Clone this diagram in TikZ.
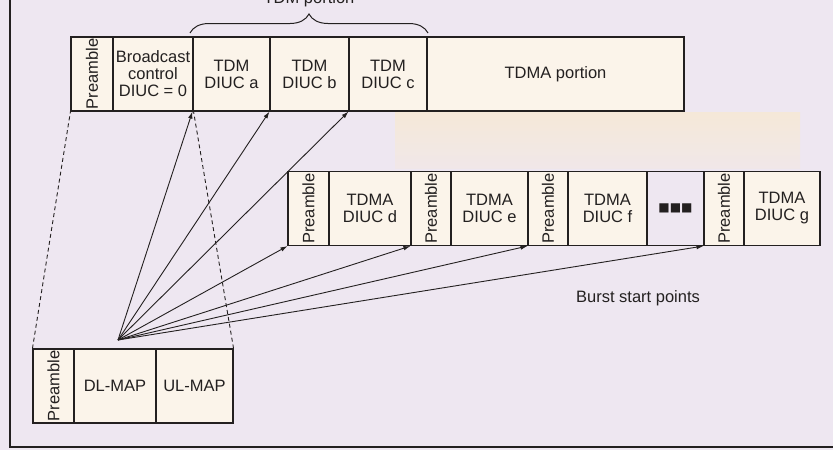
\documentclass[tikz,border=0pt]{standalone}
\usepackage{fontspec}
\setmainfont{Liberation Sans}
\newfontfamily\symfont{DejaVu Sans}
\usetikzlibrary{arrows.meta,decorations.pathreplacing}
\definecolor{bgcol}{RGB}{238,231,241}
\definecolor{cellcol}{RGB}{251,244,234}
\definecolor{bandcol}{RGB}{245,232,216}
\definecolor{linecol}{RGB}{35,32,32}
\begin{document}
\begin{tikzpicture}[x={(1pt,0pt)}, y={(0pt,-1pt)}]
  \tikzstyle{txt}=[font=\fontsize{16.5}{17}\selectfont, text=linecol]
  \tikzstyle{cell}=[txt, draw=linecol, line width=1.1pt, fill=cellcol, minimum height=74pt, inner sep=0pt, align=center]
  \tikzstyle{pre}=[cell, minimum width=41pt, label={[txt, rotate=90]center:Preamble}]
  \tikzstyle{ptr}=[-{Latex[length=7pt, width=4.5pt]}, line width=0.9pt, draw=linecol]
  \tikzstyle{zoom}=[dash pattern=on 4pt off 3pt, line width=0.9pt, draw=linecol]
  \useasboundingbox (0,0) rectangle (833,450);
  \fill[bgcol] (0,0) rectangle (833,450);
  \shade[top color=bandcol, bottom color=bandcol!35!bgcol] (395,112) rectangle (800,168);
  \draw[linecol, line width=1.4pt] (10,0) -- (10,447) -- (833,447);

  \node[pre, minimum width=42pt] (p0) at (92,74) {};
  \node[cell, minimum width=80pt] (bc) at (153,74) {Broadcast\\control\\DIUC = 0};
  \node[cell, minimum width=77pt] (ta) at (231.5,74) {TDM\\DIUC a};
  \node[cell, minimum width=79pt] (tb) at (309.5,74) {TDM\\DIUC b};
  \node[cell, minimum width=78pt] (tc) at (388,74) {TDM\\DIUC c};
  \node[cell, minimum width=257pt] (tp) at (555.5,74) {TDMA portion};

  \coordinate (b1) at (190,33);
  \coordinate (b2) at (428,33);
  \draw[linecol, line width=1pt, decorate, decoration={brace, amplitude=19pt}] (b1) -- (b2);
  \node[txt, anchor=base] (lb) at (309,3) {TDM portion};

  \node[pre] (q1) at (308.5,208.5) {};
  \node[cell, minimum width=82pt] (bd) at (370,208.5) {TDMA\\DIUC d};
  \node[pre, minimum width=40pt] (q2) at (431,208.5) {};
  \node[cell, minimum width=77pt] (be) at (489.5,208.5) {TDMA\\DIUC e};
  \node[pre, minimum width=40pt] (q3) at (548,208.5) {};
  \node[cell, minimum width=79pt] (bf) at (607.5,208.5) {TDMA\\DIUC f};
  \node[cell, fill=bgcol, minimum width=57pt] (gap) at (675.5,208.5) {\symfont\fontsize{12}{12}\selectfont ■■■};
  \node[pre, minimum width=40pt] (q4) at (724,208.5) {};
  \node[cell, minimum width=76pt] (bg) at (782,208.5) {TDMA\\DIUC g};

  \node[txt] (bsp) at (638,298) {Burst start points};

  \node[pre] (q0) at (53.5,386) {};
  \node[cell, minimum width=82pt] (dl) at (115,386) {DL-MAP};
  \node[cell, minimum width=77pt] (ul) at (194.5,386) {UL-MAP};

  \draw[zoom] (q0.north west) -- (p0.south west);
  \draw[zoom] (ul.north east) -- (bc.south east);

  \coordinate (o) at (118,340);
  \draw[ptr] (o) -- (ta.south west);
  \draw[ptr] (o) -- (tb.south west);
  \draw[ptr] (o) -- (tc.south west);
  \draw[ptr] (o) -- (q1.south west);
  \draw[ptr] (o) -- (q2.south west);
  \draw[ptr] (o) -- (q3.south west);
  \draw[ptr] (o) -- (q4.south west);
\end{tikzpicture}
\end{document}
